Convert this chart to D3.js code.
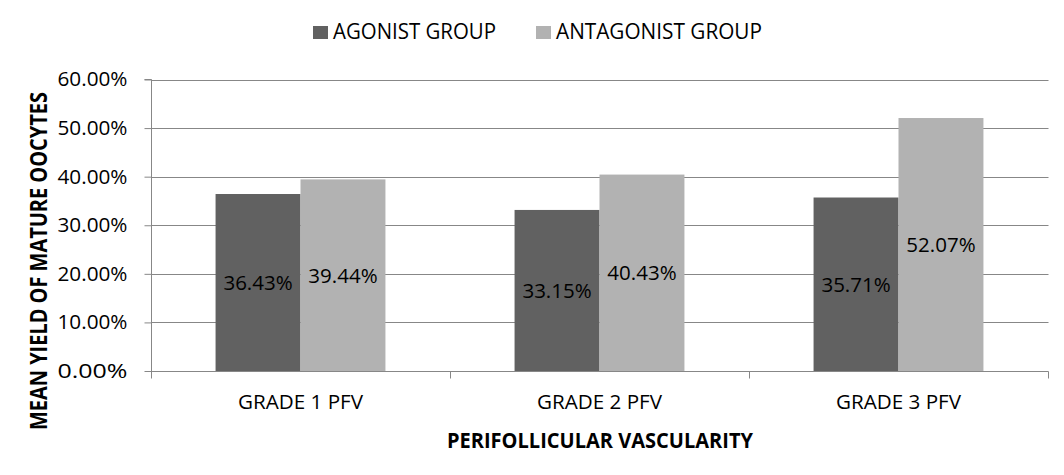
<!DOCTYPE html>
<html><head><meta charset="utf-8">
<script src="https://cdn.jsdelivr.net/npm/d3@7"></script>
<style>body{margin:0;background:#fff}svg{display:block}text{font-family:"Open Sans",sans-serif}</style>
</head><body><svg id="c" width="1064" height="475"></svg>
<script>
const categories = ["GRADE 1 PFV", "GRADE 2 PFV", "GRADE 3 PFV"];
const seriesNames = ["AGONIST GROUP", "ANTAGONIST GROUP"];
const agonist = [36.43, 33.15, 35.71];
const antagonist = [39.44, 40.43, 52.07];
const yTicks = [0, 10, 20, 30, 40, 50, 60];
const colors = ["#616161", "#b2b2b2"];
const gridColor = "#878787";

const svg = d3.select("#c");
const pL = 151, pR = 1048, pT = 79.5, pB = 371;
const x = d3.scaleBand().domain(categories).range([pL, pR]).padding(0);
const xi = d3.scaleBand().domain(seriesNames).range([0, x.bandwidth()]).paddingInner(0).paddingOuter(0.76);
const y = d3.scaleLinear().domain([0, 60]).range([pB, pT]);

// gridlines
svg.append("g").selectAll("line").data(yTicks.filter(d => d > 0)).join("line")
  .attr("x1", pL).attr("x2", pR + 0.5).attr("y1", d => Math.round(y(d)) + 0.5).attr("y2", d => Math.round(y(d)) + 0.5)
  .attr("stroke", gridColor).attr("stroke-width", 1);

// y axis
const yAxis = d3.axisLeft(y).tickValues(yTicks).tickSize(7).tickPadding(17).tickFormat(d => d.toFixed(2) + "%");
const gy = svg.append("g").attr("transform", `translate(${pL + 0.5},0)`).call(yAxis);
gy.select(".domain").attr("stroke", gridColor).attr("d", `M-7,${pT}H0V${pB}`);
gy.selectAll(".tick line").attr("stroke", gridColor);
gy.selectAll(".tick text").attr("font-size", 20).attr("fill", "#000").attr("font-family", '"Open Sans",sans-serif')
  .attr("textLength", 70).attr("lengthAdjust", "spacingAndGlyphs");

// bars
const data = categories.map((c, i) => ({c, vals: [agonist[i], antagonist[i]]}));
const grp = svg.append("g").selectAll("g").data(data).join("g").attr("transform", d => `translate(${x(d.c)},0)`);
grp.selectAll("rect").data(d => d.vals.map((v, k) => ({v, k}))).join("rect")
  .attr("x", d => xi(seriesNames[d.k])).attr("width", xi.bandwidth())
  .attr("y", d => y(d.v)).attr("height", d => y(0) - y(d.v))
  .attr("fill", d => colors[d.k]);
grp.selectAll("text.lbl").data(d => d.vals.map((v, k) => ({v, k}))).join("text").attr("class", "lbl")
  .attr("x", d => xi(seriesNames[d.k]) + xi.bandwidth() / 2)
  .attr("y", d => (y(d.v) + y(0)) / 2)
  .attr("dy", "0.36em").attr("text-anchor", "middle").attr("font-size", 20.5).attr("fill", "#000")
  .text(d => d.v.toFixed(2) + "%");

// x axis
const xAxis = d3.axisBottom(x).tickSize(0).tickPadding(23.5);
const gx = svg.append("g").attr("transform", `translate(0,${pB + 0.5})`).call(xAxis);
gx.select(".domain").attr("stroke", gridColor).attr("d", `M${pL},0H${pR + 0.5}`);
gx.selectAll(".tick text").attr("font-size", 20).attr("fill", "#000").attr("font-family", '"Open Sans",sans-serif')
  .attr("textLength", 125).attr("lengthAdjust", "spacingAndGlyphs");
const bounds = categories.map(c => x(c)).concat([pR]);
gx.selectAll("line.sep").data(bounds).join("line").attr("class", "sep")
  .attr("x1", d => Math.round(d) + 0.5).attr("x2", d => Math.round(d) + 0.5).attr("y1", 0).attr("y2", 7).attr("stroke", gridColor);

// axis titles
svg.append("text").attr("x", 600).attr("y", 448).attr("text-anchor", "middle")
  .attr("font-size", 21.5).attr("font-weight", "bold").attr("textLength", 306).attr("lengthAdjust", "spacingAndGlyphs")
  .text("PERIFOLLICULAR VASCULARITY");
svg.append("text").attr("transform", "translate(46.5,261) rotate(-90)").attr("text-anchor", "middle")
  .attr("font-size", 22.5).attr("font-weight", "bold").attr("textLength", 338).attr("lengthAdjust", "spacingAndGlyphs")
  .text("MEAN YIELD OF MATURE OOCYTES");

// legend
const legX = [313, 536], legW = [163, 206];
const lg = svg.append("g").selectAll("g").data(seriesNames).join("g");
lg.append("rect").attr("x", (d, i) => legX[i]).attr("y", 26).attr("width", 15).attr("height", 13).attr("fill", (d, i) => colors[i]);
lg.append("text").attr("x", (d, i) => legX[i] + 20).attr("y", 38.5).attr("font-size", 21)
  .attr("textLength", (d, i) => legW[i]).attr("lengthAdjust", "spacingAndGlyphs").text(d => d);
</script></body></html>
